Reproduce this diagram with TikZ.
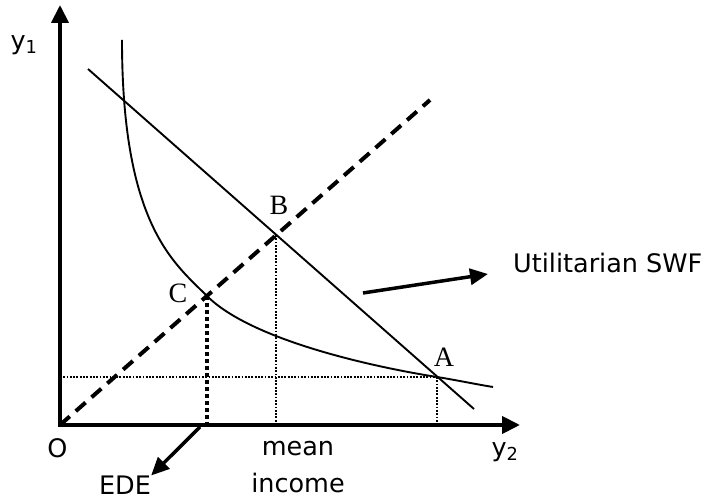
\documentclass[tikz,border=0pt]{standalone}
\usepackage{fontspec}
\setmainfont{Liberation Serif}
\newfontfamily\labelfont{DejaVu Sans}
\usetikzlibrary{arrows.meta, positioning, calc}

\begin{document}
\begin{tikzpicture}[x=1pt, y=1pt,
    axis/.style={line width=4pt, {Triangle[length=18pt,width=17pt]}-{Triangle[length=18pt,width=17pt]}},
    pointer/.style={line width=3.5pt, -{Triangle[length=18pt,width=16pt]}},
    thin line/.style={line width=1.9pt},
    diagonal/.style={line width=4pt, dash pattern=on 13pt off 8pt},
    guide/.style={line width=1.8pt, dash pattern=on 1.8pt off 1.5pt},
    thick guide/.style={line width=4pt, dash pattern=on 4pt off 3pt},
    label/.style={font=\labelfont\fontsize{25.5}{37}\selectfont, inner sep=0pt, align=center},
    letter/.style={font=\fontsize{28}{33}\selectfont, inner sep=0pt}
]
    \useasboundingbox (-60,-77) rectangle (653,425);

    % Points
    \coordinate (O) at (0,0);
    \coordinate (ytip) at (0,420);
    \coordinate (xtip) at (460,0);
    \coordinate (diag) at (370,325);
    \coordinate (swfstart) at (28,356);
    \coordinate (swfend) at (414,16);
    \coordinate (A) at (377,48);
    \coordinate (B) at (216,190);
    \coordinate (C) at (147,129);
    \coordinate (Ax) at (377,0);
    \coordinate (Ay) at (0,48);
    \coordinate (Bx) at (216,0);
    \coordinate (Cx) at (147,0);

    % Axes
    \draw[axis] (ytip) -- (O) -- (xtip);
    \node[label] (ylab) at (-36,380) {y\textsubscript{1}};
    \node[label] (xlab) at (445,-27) {y\textsubscript{2}};
    \node[label] (olab) at (-2.5,-23) {O};

    % Guides
    \draw[guide] (Ay) -- (A);
    \draw[guide] (A) -- (Ax);
    \draw[guide] (B) -- (Bx);
    \draw[thick guide] (C) -- (Cx);

    % Lines and curve
    \draw[diagonal] (O) -- (diag);
    \draw[thin line] (swfstart) -- (swfend);
    \draw[thin line] (62,385) .. controls (62,200) and (114,162) .. (C)
        .. controls (192,84) and (317,57.4) .. (A)
        .. controls (397,44.8) and (415,40.9) .. (433,38);

    % Letters
    \node[letter] (labA) at (384,68) {A};
    \node[letter] (labB) at (219,220) {B};
    \node[letter] (labC) at (118,132) {C};

    % Labels below
    \node[label] (mean) at (238,-42) {mean\\income};
    \node[label] (ede) at (65,-60) {EDE};
    \coordinate (edetail) at (140,-2);
    \draw[pointer] (edetail) -- (ede.north east);

    % Utilitarian SWF
    \node[label, anchor=west] (swf) at (453,162) {Utilitarian SWF};
    \coordinate (swftail) at (303,132);
    \coordinate (swftip) at (428,151);
    \draw[pointer] (swftail) -- (swftip);
\end{tikzpicture}
\end{document}
